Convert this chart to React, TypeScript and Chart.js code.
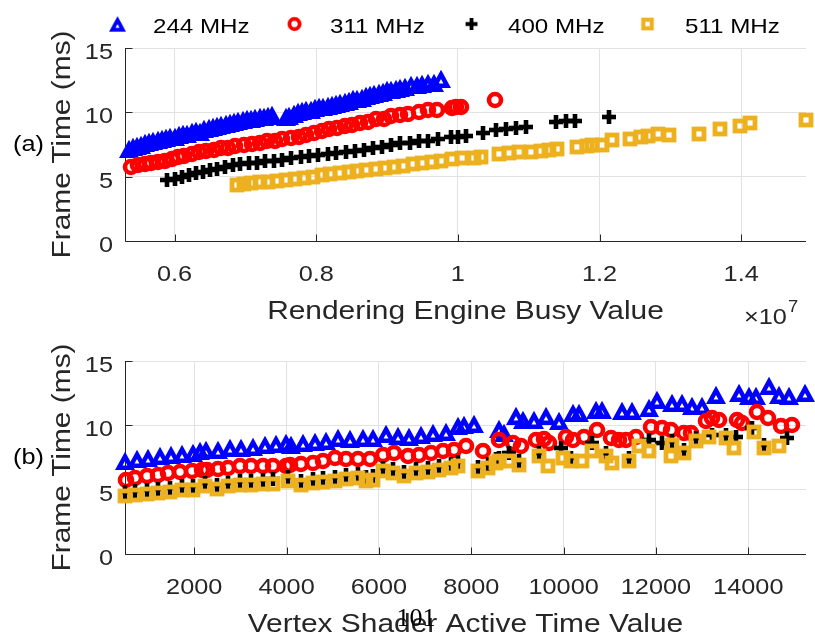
import React, { useEffect, useRef } from "react";
import { Chart, registerables } from "chart.js";

Chart.register(...registerables);

// ---------- series ----------
const freqLabels = ["244 MHz", "311 MHz", "400 MHz", "511 MHz"];
const freqColors = ["#0000ff", "#ff0000", "#000000", "#edb120"];
const freqMarkers = ["triangle", "circle", "plus", "square"];

// ---------- shared y axis ----------
const frameTicks = [0, 5, 10, 15];
const frameTickLabels = ["0", "5", "10", "15"];
const frameMin = 0;
const frameMax = 15;

// ---------- panel (a): rendering engine busy value, in units of 1e7 ----------
const busyTicks = [0.6, 0.8, 1, 1.2, 1.4];
const busyTickLabels = ["0.6", "0.8", "1", "1.2", "1.4"];
const busyMin = 0.53;
const busyMax = 1.4915;

const busyX244 = [
  0.535, 0.541, 0.547, 0.553, 0.558, 0.564, 0.57, 0.576, 0.582, 0.588,
  0.594, 0.6, 0.606, 0.612, 0.618, 0.624, 0.63, 0.636, 0.642, 0.648,
  0.654, 0.66, 0.666, 0.672, 0.678, 0.684, 0.69, 0.696, 0.702, 0.708,
  0.714, 0.72, 0.726, 0.732, 0.738,
  0.757, 0.762, 0.768, 0.774, 0.78, 0.786, 0.792, 0.798, 0.804, 0.81,
  0.816, 0.822, 0.828, 0.834, 0.84, 0.846, 0.852, 0.858, 0.864, 0.87,
  0.876, 0.882, 0.888, 0.894, 0.9, 0.906, 0.912, 0.918, 0.926, 0.934,
  0.942, 0.95, 0.958, 0.966, 0.976,
];
const busyY244 = [
  7.15, 7.3, 7.35, 7.5, 7.6, 7.7, 7.75, 7.85, 7.95, 8.0,
  8.1, 8.05, 8.25, 8.35, 8.3, 8.45, 8.55, 8.5, 8.7, 8.8,
  8.85, 8.9, 9.05, 9.1, 9.2, 9.25, 9.3, 9.4, 9.45, 9.5,
  9.55, 9.6, 9.65, 9.7, 9.8,
  9.6, 9.75, 9.9, 10.0, 10.1, 10.15, 10.2, 10.3, 10.4, 10.45,
  10.5, 10.6, 10.65, 10.75, 10.8, 10.9, 11.0, 11.05, 11.15, 11.3,
  11.35, 11.4, 11.5, 11.55, 11.7, 11.75, 11.85, 11.9, 11.95, 12.1,
  12.15, 12.2, 12.25, 12.3, 12.6,
];

const busyX311 = [
  0.539, 0.549, 0.558, 0.567, 0.576, 0.586, 0.596, 0.605, 0.614, 0.624,
  0.634, 0.644, 0.655, 0.666, 0.676, 0.686, 0.698, 0.709, 0.72, 0.731,
  0.742, 0.752, 0.764, 0.775, 0.786, 0.797, 0.808, 0.818, 0.829, 0.84,
  0.851, 0.862, 0.873, 0.884, 0.895, 0.906, 0.918, 0.93, 0.945, 0.958,
  0.97, 0.992, 0.998, 1.004, 1.052,
];
const busyY311 = [
  5.77, 5.88, 5.95, 6.08, 6.15, 6.24, 6.4, 6.5, 6.62, 6.78,
  6.88, 7.0, 7.08, 7.2, 7.25, 7.36, 7.45, 7.56, 7.62, 7.75,
  7.8, 7.92, 7.98, 8.1, 8.22, 8.4, 8.52, 8.7, 8.8, 8.95,
  9.05, 9.2, 9.28, 9.45, 9.52, 9.7, 9.78, 9.9, 10.02, 10.15,
  10.2, 10.35, 10.42, 10.4, 10.95,
];

const busyX400 = [
  0.59, 0.6, 0.61, 0.62, 0.63, 0.64, 0.65, 0.66, 0.671, 0.682,
  0.693, 0.705, 0.716, 0.728, 0.74, 0.752, 0.765, 0.778, 0.79, 0.803,
  0.816, 0.828, 0.842, 0.855, 0.868, 0.88, 0.893, 0.906, 0.918, 0.932,
  0.945, 0.958, 0.972, 0.99, 1.0, 1.012, 1.035, 1.054, 1.068, 1.082,
  1.096, 1.138, 1.152, 1.166, 1.213,
];
const busyY400 = [
  4.75, 4.85, 5.0, 5.15, 5.3, 5.4, 5.55, 5.6, 5.75, 5.9,
  5.95, 6.05, 6.05, 6.2, 6.25, 6.3, 6.45, 6.55, 6.6, 6.7,
  6.8, 6.85, 6.9, 7.0, 7.05, 7.2, 7.3, 7.45, 7.6, 7.65,
  7.75, 7.8, 7.9, 8.05, 8.1, 8.15, 8.4, 8.6, 8.7, 8.75,
  8.85, 9.25, 9.3, 9.35, 9.65,
];

const busyX511 = [
  0.688, 0.698, 0.708, 0.72, 0.732, 0.745, 0.758, 0.77, 0.783, 0.795,
  0.808, 0.82, 0.833, 0.846, 0.858, 0.87, 0.884, 0.897, 0.91, 0.923,
  0.937, 0.95, 0.964, 0.976, 0.992, 1.006, 1.023, 1.032, 1.058, 1.072,
  1.086, 1.103, 1.117, 1.129, 1.14, 1.168, 1.183, 1.19, 1.204, 1.218,
  1.243, 1.259, 1.269, 1.283, 1.298, 1.34, 1.37, 1.398, 1.413, 1.491,
];
const busyY511 = [
  4.35, 4.4, 4.5, 4.55, 4.6, 4.7, 4.75, 4.85, 4.9, 5.0,
  5.15, 5.2, 5.3, 5.4, 5.45, 5.5, 5.6, 5.65, 5.75, 5.8,
  5.95, 6.05, 6.15, 6.25, 6.4, 6.45, 6.45, 6.5, 6.8, 6.85,
  6.9, 6.95, 7.0, 7.05, 7.15, 7.3, 7.4, 7.45, 7.45, 7.85,
  7.9, 8.05, 8.15, 8.3, 8.25, 8.3, 8.7, 8.95, 9.15, 9.4,
];

// ---------- panel (b): vertex shader active time value ----------
const vertexTicks = [2000, 4000, 6000, 8000, 10000, 12000, 14000];
const vertexTickLabels = ["2000", "4000", "6000", "8000", "10000", "12000", "14000"];
const vertexMin = 500;
const vertexMax = 15250;

const vertexX244 = [
  500, 753, 1004, 1257, 1495, 1726, 1977, 2120, 2260, 2518,
  2770, 3023, 3274, 3527, 3780, 3996, 4104, 4355, 4608, 4861,
  5112, 5365, 5652, 5868, 6158, 6409, 6662, 6915, 7166, 7455,
  7706, 7851, 8067,
  8607, 8716, 8968, 9112, 9364, 9617, 9905, 10193, 10337, 10698,
  10841, 11274, 11490, 11851, 12030, 12355, 12571, 12787, 13003, 13293,
  13796, 14012, 14157, 14445, 14661, 14877, 15238,
];
const vertexY244 = [
  7.22, 7.35, 7.48, 7.61, 7.69, 7.74, 7.87, 8.0, 8.05, 8.12,
  8.26, 8.26, 8.33, 8.47, 8.57, 8.64, 8.51, 8.64, 8.7, 8.77,
  9.03, 8.9, 8.98, 9.03, 9.29, 9.16, 9.08, 9.24, 9.42, 9.5,
  9.94, 10.0, 10.1,
  9.68, 9.42, 10.71, 10.45, 10.45, 10.71, 10.32, 10.97, 10.97, 11.23,
  11.23, 11.1, 11.1, 11.36, 12.0, 11.74, 11.74, 11.49, 11.49, 12.39,
  12.52, 12.26, 12.26, 13.04, 12.39, 12.26, 12.52,
];

const vertexX311 = [
  520, 716, 969, 1220, 1436, 1689, 1942, 2158, 2266, 2518,
  2734, 2986, 3239, 3490, 3706, 3996, 4067, 4320, 4571, 4787,
  5040, 5293, 5544, 5797, 6085, 6337, 6625, 6878, 7131, 7382,
  7635, 7887, 8247,
  8607, 8895, 9076, 9400, 9580, 9689, 10049, 10193, 10445, 10733,
  11022, 11202, 11346, 11563, 11887, 12138, 12319, 12607, 12751, 13076,
  13219, 13364, 13760, 13868, 14192, 14430, 14698, 14949,
];
const vertexY311 = [
  5.78, 5.91, 6.03, 6.16, 6.29, 6.34, 6.42, 6.5, 6.5, 6.6,
  6.68, 6.81, 6.86, 6.86, 6.86, 6.81, 6.94, 7.02, 7.07, 7.2,
  7.46, 7.38, 7.38, 7.38, 7.71, 7.84, 7.58, 7.71, 7.84, 7.97,
  8.1, 8.36, 7.97,
  8.88, 8.62, 8.36, 8.88, 8.93, 8.62, 9.13, 8.88, 9.13, 9.65,
  9.0, 8.88, 8.88, 9.13, 9.86, 9.78, 9.65, 9.39, 9.43, 10.3,
  10.56, 10.43, 10.43, 10.17, 11.0, 10.56, 9.96, 10.04,
];

const vertexX400 = [
  500, 716, 969, 1220, 1473, 1725, 1977, 2230, 2482, 2734,
  2986, 3239, 3490, 3706, 4031, 4320, 4571, 4787, 5040, 5293,
  5544, 5725, 5869, 6085, 6301, 6553, 6806, 7058, 7311, 7563,
  7707, 8139, 8355, 8536,
  8607, 8824, 9040, 9472, 9941, 10157, 10625, 10914, 11418, 11851,
  12138, 12355, 12607, 12860, 13219, 13509, 13725, 14085, 14337, 14841,
];
const vertexY400 = [
  4.8, 4.9, 5.0, 5.05, 5.1, 5.25, 5.3, 5.55, 5.4, 5.55,
  5.65, 5.7, 5.75, 5.8, 5.95, 5.65, 5.85, 5.9, 5.95, 6.15,
  6.2, 5.95, 6.1, 6.7, 6.6, 6.4, 6.6, 6.65, 6.85, 7.0,
  7.15, 6.75, 7.0, 7.35,
  7.45, 7.84, 7.2, 7.85, 8.23, 7.5, 8.62, 7.85, 7.5, 8.88,
  8.62, 8.75, 8.1, 9.0, 9.26, 9.25, 9.13, 9.78, 8.5, 9.0,
];

const vertexX511 = [
  500, 716, 969, 1220, 1473, 1725, 1977, 2230, 2482, 2734,
  2986, 3239, 3490, 3706, 4031, 4320, 4571, 4787, 5040, 5293,
  5544, 5725, 5869, 6085, 6301, 6553, 6806, 7058, 7311, 7563,
  7707, 8139, 8355, 8536,
  8607, 8824, 9040, 9472, 9652, 9976, 10157, 10409, 10625, 10914,
  11058, 11418, 11634, 11851, 12320, 12355, 12607, 12860, 13148, 13509,
  13688, 14121, 14337, 14661,
];
const vertexY511 = [
  4.48, 4.61, 4.69, 4.74, 4.82, 4.95, 5.0, 5.26, 5.08, 5.26,
  5.34, 5.39, 5.44, 5.47, 5.65, 5.34, 5.52, 5.57, 5.65, 5.83,
  5.91, 5.65, 5.78, 6.42, 6.29, 6.09, 6.29, 6.34, 6.55, 6.68,
  6.86, 6.42, 6.68, 7.07,
  7.2, 7.2, 6.94, 7.58, 6.81, 7.46, 7.2, 7.2, 7.97, 7.58,
  7.07, 7.2, 8.36, 7.97, 7.58, 8.49, 7.84, 8.75, 9.13, 9.0,
  8.23, 9.52, 8.23, 8.36,
];

// ---------- text styling ----------
const SANS = '"Liberation Sans", Arial, Helvetica, sans-serif';
const SERIF = '"Liberation Serif", "Times New Roman", serif';
const WIDEN = 1.15;
const INK = "#262626";
const GRID = "#e2e2e2";

type Align = "left" | "center" | "right";

function drawLabel(
  ctx: CanvasRenderingContext2D,
  text: string,
  x: number,
  y: number,
  size: number,
  align: Align,
  color = INK,
  rotate = 0,
  family = SANS,
  widen = WIDEN
) {
  ctx.save();
  ctx.translate(x, y);
  if (rotate) ctx.rotate(rotate);
  ctx.scale(widen, 1);
  ctx.font = `${size}px ${family}`;
  ctx.fillStyle = color;
  ctx.textAlign = align;
  ctx.textBaseline = "alphabetic";
  ctx.fillText(text, 0, 0);
  ctx.restore();
}

// Hollow marker glyphs, drawn once and reused as Chart.js point styles.
function makeMarker(kind: string, color: string): HTMLCanvasElement {
  const size = 28;
  const m = size / 2;
  const c = document.createElement("canvas");
  c.width = size;
  c.height = size;
  const g = c.getContext("2d")!;
  g.strokeStyle = color;
  g.fillStyle = color;
  g.lineJoin = "miter";
  if (kind === "triangle") {
    g.lineWidth = 4.5;
    g.beginPath();
    g.moveTo(m, m - 4.6);
    g.lineTo(m + 6.2, m + 6.8);
    g.lineTo(m - 6.2, m + 6.8);
    g.closePath();
    g.stroke();
  } else if (kind === "circle") {
    g.lineWidth = 4.6;
    g.beginPath();
    g.arc(m, m, 6, 0, Math.PI * 2);
    g.stroke();
  } else if (kind === "square") {
    g.lineWidth = 4.8;
    g.strokeRect(m - 5, m - 5, 10, 10);
  } else {
    g.fillRect(m - 7, m - 2.3, 14, 4.6);
    g.fillRect(m - 2.3, m - 7, 4.6, 14);
  }
  return c;
}

type PanelSpec = {
  xTicks: number[];
  xTickLabels: string[];
  xTitle: string;
  tag: string;
  extra?: (chart: Chart) => void;
};

function panelPlugin(spec: PanelSpec) {
  return {
    id: "panelFrame",
    beforeDatasetsDraw(chart: Chart) {
      const { ctx, chartArea: a } = chart;
      const sx = chart.scales.x;
      const sy = chart.scales.y;
      const left = Math.round(a.left) + 0.5;
      const bottom = Math.round(a.bottom) + 0.5;
      ctx.save();
      ctx.strokeStyle = INK;
      ctx.lineWidth = 1;
      ctx.beginPath();
      ctx.moveTo(left, a.top);
      ctx.lineTo(left, bottom);
      ctx.lineTo(a.right, bottom);
      spec.xTicks.forEach((v) => {
        const px = Math.round(sx.getPixelForValue(v)) + 0.5;
        ctx.moveTo(px, bottom);
        ctx.lineTo(px, bottom - 7);
      });
      frameTicks.forEach((v) => {
        const py = Math.round(sy.getPixelForValue(v)) + 0.5;
        ctx.moveTo(left, py);
        ctx.lineTo(left + 7, py);
      });
      ctx.stroke();
      ctx.restore();
      // keep marker glyphs crisp when placed at fractional pixel positions
      ctx.imageSmoothingEnabled = false;
    },
    afterDatasetsDraw(chart: Chart) {
      chart.ctx.imageSmoothingEnabled = true;
    },
    afterDraw(chart: Chart) {
      const { ctx, chartArea: a } = chart;
      const sx = chart.scales.x;
      const sy = chart.scales.y;
      spec.xTicks.forEach((v, i) => {
        drawLabel(ctx, spec.xTickLabels[i], sx.getPixelForValue(v), a.bottom + 40, 22, "center");
      });
      frameTicks.forEach((v, i) => {
        drawLabel(ctx, frameTickLabels[i], a.left - 12, sy.getPixelForValue(v) + 11, 22, "right");
      });
      const midX = (a.left + a.right) / 2;
      const midY = (a.top + a.bottom) / 2;
      drawLabel(ctx, spec.xTitle, midX, a.bottom + 78, 26, "center");
      drawLabel(ctx, "Frame Time (ms)", 70, midY, 26, "center", INK, -Math.PI / 2);
      drawLabel(ctx, spec.tag, 13, midY + 6, 22, "left", "#000000");
      if (spec.extra) spec.extra(chart);
    },
  };
}

function buildDatasets(
  xsList: number[][],
  ysList: number[][],
  markers: HTMLCanvasElement[]
) {
  return xsList.map((xs, i) => ({
    label: freqLabels[i],
    data: xs.map((x, k) => ({ x, y: ysList[i][k] })),
    pointStyle: markers[i],
    pointRadius: 8,
    pointHoverRadius: 8,
    showLine: false,
    clip: false as const,
    order: 4 - i,
  }));
}

function axisOptions(min: number, max: number, ticks: number[]) {
  return {
    type: "linear" as const,
    min,
    max,
    afterBuildTicks: (axis: any) => {
      axis.ticks = ticks.map((value) => ({ value }));
    },
    ticks: { display: false },
    grid: { color: GRID, lineWidth: 1, drawTicks: false },
    border: { display: false },
    title: { display: false },
  };
}

function chartConfig(
  xsList: number[][],
  ysList: number[][],
  markers: HTMLCanvasElement[],
  xMin: number,
  xMax: number,
  xTicks: number[],
  padding: { left: number; right: number; top: number; bottom: number },
  plugins: any[]
): any {
  return {
    type: "scatter",
    data: { datasets: buildDatasets(xsList, ysList, markers) },
    options: {
      animation: false,
      responsive: false,
      maintainAspectRatio: false,
      devicePixelRatio: 1,
      events: [],
      layout: { padding },
      plugins: {
        legend: { display: false },
        tooltip: { enabled: false },
      },
      scales: {
        x: axisOptions(xMin, xMax, xTicks),
        y: axisOptions(frameMin, frameMax, frameTicks),
      },
    },
    plugins,
  };
}

export default function App() {
  const topRef = useRef<HTMLCanvasElement>(null);
  const bottomRef = useRef<HTMLCanvasElement>(null);

  useEffect(() => {
    document.body.style.margin = "0";
    const markers = freqMarkers.map((k, i) => makeMarker(k, freqColors[i]));

    const legendXs = [117.5, 294.5, 471.5, 647.5];
    const legendTextXs = [153, 330, 508, 685];

    const topPanel = panelPlugin({
      xTicks: busyTicks,
      xTickLabels: busyTickLabels,
      xTitle: "Rendering Engine Busy Value",
      tag: "(a)",
      extra: (chart) => {
        const { ctx, chartArea: a } = chart;
        // exponent note for the x axis
        drawLabel(ctx, "\u00d710", 744, a.bottom + 83, 22, "left");
        ctx.save();
        ctx.font = `22px ${SANS}`;
        const w = ctx.measureText("\u00d710").width * WIDEN;
        ctx.restore();
        drawLabel(ctx, "7", 744 + w + 1, a.bottom + 71, 16, "left");
        // legend row
        freqLabels.forEach((lab, i) => {
          ctx.save();
          ctx.translate(legendXs[i], 24);
          ctx.scale(0.85, 0.85);
          ctx.drawImage(markers[i], -14, -14);
          ctx.restore();
          drawLabel(ctx, lab, legendTextXs[i], 33, 21, "left", "#000000");
        });
      },
    });

    const bottomPanel = panelPlugin({
      xTicks: vertexTicks,
      xTickLabels: vertexTickLabels,
      xTitle: "Vertex Shader Active Time Value",
      tag: "(b)",
      extra: (chart) => {
        drawLabel(chart.ctx, "101", 416, 296, 26, "center", "#000000", 0, SERIF, 1);
      },
    });

    const top = new Chart(
      topRef.current!,
      chartConfig(
        [busyX244, busyX311, busyX400, busyX511],
        [busyY244, busyY311, busyY400, busyY511],
        markers,
        busyMin,
        busyMax,
        busyTicks,
        { left: 125, right: 8, top: 48, bottom: 89 },
        [topPanel]
      )
    );
    const bottom = new Chart(
      bottomRef.current!,
      chartConfig(
        [vertexX244, vertexX311, vertexX400, vertexX511],
        [vertexY244, vertexY311, vertexY400, vertexY511],
        markers,
        vertexMin,
        vertexMax,
        vertexTicks,
        { left: 125, right: 8, top: 31, bottom: 84 },
        [bottomPanel]
      )
    );
    return () => {
      top.destroy();
      bottom.destroy();
    };
  }, []);

  return (
    <div style={{ position: "relative", width: 815, height: 638, background: "#ffffff" }}>
      <canvas
        ref={topRef}
        width={815}
        height={330}
        style={{ position: "absolute", left: 0, top: 0, width: 815, height: 330 }}
      />
      <canvas
        ref={bottomRef}
        width={815}
        height={308}
        style={{ position: "absolute", left: 0, top: 330, width: 815, height: 308 }}
      />
    </div>
  );
}
